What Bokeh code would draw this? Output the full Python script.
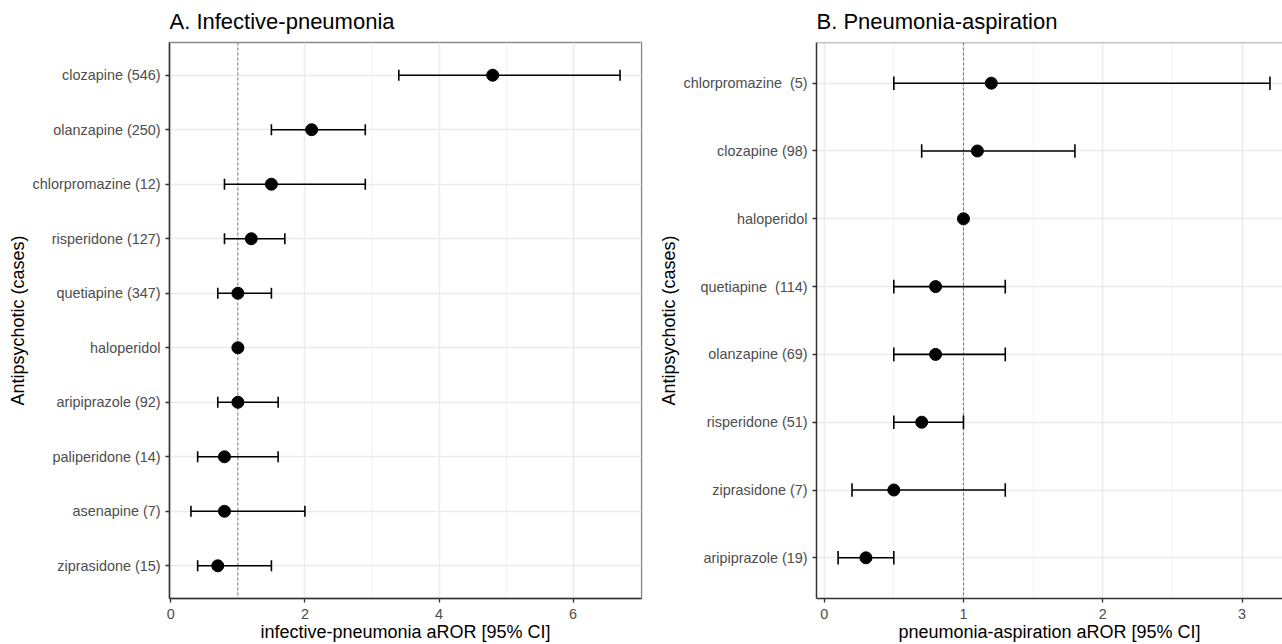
from bokeh.plotting import figure
from bokeh.layouts import row
from bokeh.models import FixedTicker, Span
from bokeh.embed import file_html
from bokeh.resources import INLINE

# ---- Panel A: infective pneumonia ----
a_labels = ["clozapine (546)", "olanzapine (250)", "chlorpromazine (12)", "risperidone (127)",
            "quetiapine (347)", "haloperidol", "aripiprazole (92)", "paliperidone (14)",
            "asenapine (7)", "ziprasidone (15)"]
a_est = [4.8, 2.1, 1.5, 1.2, 1.0, 1.0, 1.0, 0.8, 0.8, 0.7]
a_low = [3.4, 1.5, 0.8, 0.8, 0.7, None, 0.7, 0.4, 0.3, 0.4]
a_high = [6.7, 2.9, 2.9, 1.7, 1.5, None, 1.6, 1.6, 2.0, 1.5]
a_xticks = [0, 2, 4, 6]
a_xminor = [1, 3, 5, 7]

# ---- Panel B: pneumonia aspiration ----
b_labels = ["chlorpromazine \u00a0(5)", "clozapine (98)", "haloperidol", "quetiapine \u00a0(114)",
            "olanzapine (69)", "risperidone (51)", "ziprasidone (7)", "aripiprazole (19)"]
b_est = [1.2, 1.1, 1.0, 0.8, 0.8, 0.7, 0.5, 0.3]
b_low = [0.5, 0.7, None, 0.5, 0.5, 0.5, 0.2, 0.1]
b_high = [3.2, 1.8, None, 1.3, 1.3, 1.0, 1.3, 0.5]
b_xticks = [0, 1, 2, 3]
b_xminor = [0.5, 1.5, 2.5]

FONT = "Liberation Sans"
H = 644


def panel(title, xlabel, labels, est, low, high, xticks, xminor, x_end, width,
          b_left, b_right, show_right_border=True):
    n = len(labels)
    ypos = [n - 1 - i for i in range(n)]
    vals = [v for v in low + high if v is not None]
    lo, hi = min(vals), max(vals)
    pad = 0.05 * (hi - lo)
    x_start = lo - pad
    if x_end is None:
        x_end = hi + pad
    y_top = n - 1 + 0.6
    p = figure(width=width, height=H, x_range=(x_start, x_end), y_range=(-0.6, y_top),
               output_backend="svg", toolbar_location=None,
               min_border_left=b_left, min_border_right=b_right,
               min_border_top=42, min_border_bottom=45)
    p.background_fill_color = "white"
    p.border_fill_color = "white"
    if show_right_border:
        p.outline_line_color = "#8a8a8a"
        p.outline_line_width = 1.5
    else:
        p.outline_line_color = None
        p.add_layout(Span(location=y_top, dimension="width", line_color="#8a8a8a",
                          line_width=1.5))

    p.title.text = title
    p.title.text_font = FONT
    p.title.text_font_size = "22px"
    p.title.text_font_style = "normal"
    p.title.text_color = "black"
    p.title.align = "left"
    p.title.vertical_align = "top"
    p.title.standoff = 14

    # grids
    p.xgrid.grid_line_color = "#EBEBEB"
    p.xgrid.grid_line_width = 1.5
    p.xgrid.minor_grid_line_color = "#F2F2F2"
    p.xgrid.minor_grid_line_width = 0.9
    p.ygrid.grid_line_color = "#EBEBEB"
    p.ygrid.grid_line_width = 1.6

    # axes
    p.xaxis.ticker = FixedTicker(ticks=xticks, minor_ticks=xminor)
    p.yaxis.ticker = FixedTicker(ticks=ypos)
    p.yaxis.major_label_overrides = {y: lab for y, lab in zip(ypos, labels)}
    for ax in (p.xaxis[0], p.yaxis[0]):
        ax.axis_line_color = "#333333"
        ax.axis_line_width = 1.5
        ax.major_tick_line_color = "#333333"
        ax.major_tick_line_width = 1.3
        ax.major_tick_out = 4
        ax.major_tick_in = 0
        ax.minor_tick_out = 0
        ax.minor_tick_in = 0
        ax.major_label_text_font = FONT
        ax.major_label_text_font_size = "14.4px"
        ax.major_label_text_color = "#4D4D4D"
        ax.axis_label_text_font = FONT
        ax.axis_label_text_font_size = "18px"
        ax.axis_label_text_font_style = "normal"
        ax.axis_label_text_color = "black"
    p.yaxis.major_label_standoff = 5
    p.yaxis.axis_label_standoff = 2
    p.xaxis.major_label_standoff = 6
    p.xaxis.axis_label_standoff = 0
    p.xaxis.axis_label = xlabel
    p.yaxis.axis_label = "Antipsychotic (cases)"

    # reference line at aROR = 1
    p.add_layout(Span(location=1, dimension="height", line_color="#555555",
                      line_dash="3 2", line_width=0.8, level="underlay"))

    # error bars
    idx = [i for i in range(n) if low[i] is not None]
    ys = [ypos[i] for i in idx]
    lows = [low[i] for i in idx]
    highs = [high[i] for i in idx]
    cap = 0.1
    p.segment(x0=lows, y0=ys, x1=highs, y1=ys, line_color="black", line_width=1.6)
    p.segment(x0=lows, y0=[y - cap for y in ys], x1=lows, y1=[y + cap for y in ys],
              line_color="black", line_width=1.6)
    p.segment(x0=highs, y0=[y - cap for y in ys], x1=highs, y1=[y + cap for y in ys],
              line_color="black", line_width=1.6)
    p.scatter(x=est, y=ypos, size=12, fill_color="black", line_color="black")
    return p


pa = panel("A. Infective-pneumonia", "infective-pneumonia aROR [95% CI]",
           a_labels, a_est, a_low, a_high, a_xticks, a_xminor, None,
           width=655, b_left=169, b_right=14)
pb = panel("B. Pneumonia-aspiration", "pneumonia-aspiration aROR [95% CI]",
           b_labels, b_est, b_low, b_high, b_xticks, b_xminor, 3.29,
           width=627, b_left=158, b_right=0, show_right_border=False)

layout = row(pa, pb)
open("out.html", "w").write(file_html(layout, INLINE))
